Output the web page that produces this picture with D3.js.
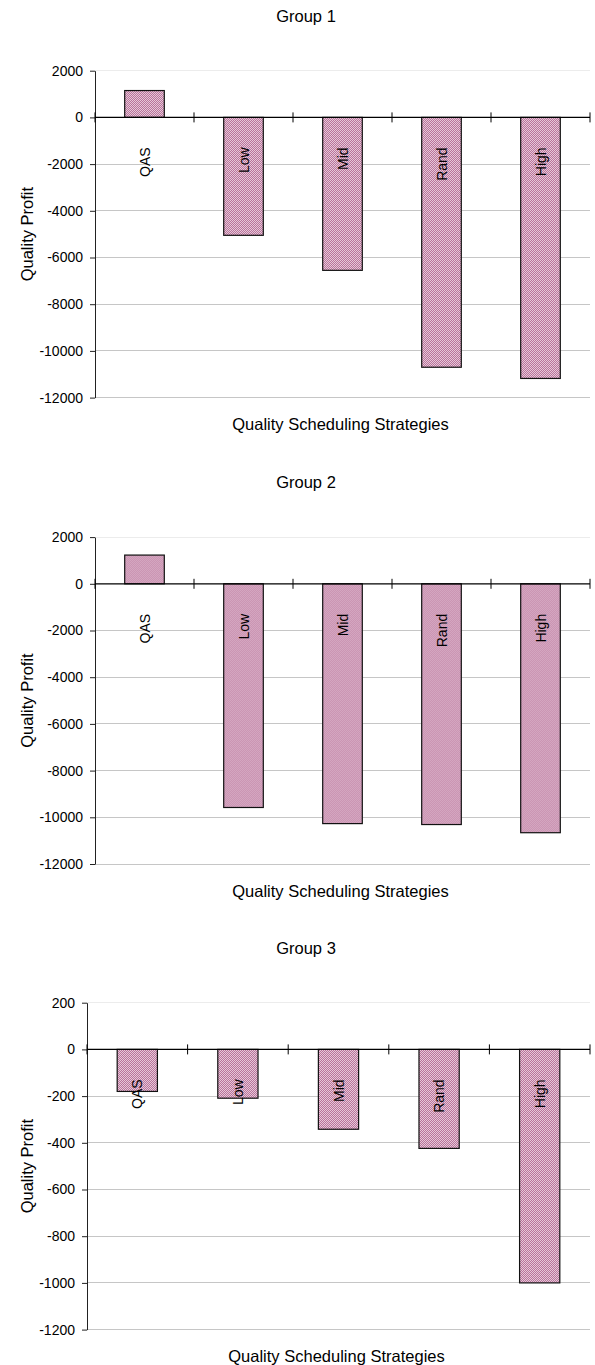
<!DOCTYPE html>
<html>
<head>
<meta charset="utf-8">
<script src="https://cdn.jsdelivr.net/npm/d3@7"></script>
<style>
  html, body { margin: 0; padding: 0; background: #fff; }
  svg { display: block; font-family: "Liberation Sans", Arial, sans-serif; }
</style>
</head>
<body>
<script>
// Strategy names shared by all three groups
const categories = ["QAS", "Low", "Mid", "Rand", "High"];

// Quality profit per strategy, one array per group
const group1 = [1150, -5050, -6550, -10700, -11180];
const group2 = [1230, -9580, -10270, -10310, -10660];
const group3 = [-180, -209, -342, -424, -1000];

// Y tick values per group
const ticksLarge = [2000, 0, -2000, -4000, -6000, -8000, -10000, -12000];
const ticksSmall = [200, 0, -200, -400, -600, -800, -1000, -1200];

const groupTitles = ["Group 1", "Group 2", "Group 3"];
const xTitle = "Quality Scheduling Strategies";
const yTitle = "Quality Profit";

const W = 595, H = 1365;
const svg = d3.select("body").append("svg")
  .attr("width", W).attr("height", H)
  .attr("viewBox", `0 0 ${W} ${H}`);

// Pink checkered fill used for every bar
const defs = svg.append("defs");
const pat = defs.append("pattern")
  .attr("id", "barFill")
  .attr("patternUnits", "userSpaceOnUse")
  .attr("width", 2).attr("height", 2);
pat.append("rect").attr("width", 2).attr("height", 2).attr("fill", "#b9739b");
pat.append("rect").attr("x", 0).attr("y", 0).attr("width", 1).attr("height", 1).attr("fill", "#e6c8d8");
pat.append("rect").attr("x", 1).attr("y", 1).attr("width", 1).attr("height", 1).attr("fill", "#e6c8d8");

const panels = [
  { title: groupTitles[0], values: group1, ticks: ticksLarge, offset: 0,     axisX: 95 },
  { title: groupTitles[1], values: group2, ticks: ticksLarge, offset: 466.4, axisX: 95 },
  { title: groupTitles[2], values: group3, ticks: ticksSmall, offset: 932.0, axisX: 87 }
];

const plotRight = 590;
const font = "Liberation Sans, Arial, sans-serif";

panels.forEach(p => {
  const g = svg.append("g").attr("transform", `translate(0,${p.offset})`);
  const top = 70.7, bottom = 397.6;
  const y = d3.scaleLinear()
    .domain([d3.min(p.ticks), d3.max(p.ticks)])
    .range([bottom, top]);
  const x = d3.scaleBand()
    .domain(categories)
    .range([p.axisX, plotRight])
    .paddingInner(0.6)
    .paddingOuter(0.3);
  const step = x.step();
  const maxTick = d3.max(p.ticks);

  // horizontal gridlines
  g.append("g").selectAll("line")
    .data(p.ticks.filter(t => t !== 0))
    .join("line")
    .attr("x1", p.axisX).attr("x2", plotRight)
    .attr("y1", d => y(d)).attr("y2", d => y(d))
    .attr("stroke", d => d === maxTick ? "#ececec" : "#c6c6c6")
    .attr("stroke-width", 1)
    .attr("shape-rendering", "crispEdges");

  // bars
  g.append("g").selectAll("rect")
    .data(categories.map((c, i) => ({ c, v: p.values[i] })))
    .join("rect")
    .attr("x", d => x(d.c))
    .attr("y", d => Math.min(y(d.v), y(0)))
    .attr("width", x.bandwidth())
    .attr("height", d => Math.abs(y(d.v) - y(0)))
    .attr("fill", "url(#barFill)")
    .attr("stroke", "#111")
    .attr("stroke-width", 1.2);

  // y axis
  const yAxis = d3.axisLeft(y)
    .tickValues(p.ticks)
    .tickSize(5)
    .tickSizeOuter(0)
    .tickPadding(7)
    .tickFormat(d => String(d));
  const ya = g.append("g")
    .attr("transform", `translate(${p.axisX},0)`)
    .call(yAxis);
  ya.select(".domain").attr("stroke", "#222");
  ya.selectAll(".tick line").attr("stroke", "#222");
  ya.selectAll(".tick text")
    .attr("font-family", font)
    .attr("font-size", 14)
    .attr("fill", "#000");

  // zero line with category boundary ticks
  g.append("line")
    .attr("x1", p.axisX).attr("x2", plotRight)
    .attr("y1", y(0)).attr("y2", y(0))
    .attr("stroke", "#000").attr("stroke-width", 1.2);
  g.append("g").selectAll("line")
    .data(d3.range(categories.length + 1))
    .join("line")
    .attr("x1", i => p.axisX + i * step).attr("x2", i => p.axisX + i * step)
    .attr("y1", y(0) - 5).attr("y2", y(0) + 5)
    .attr("stroke", "#000").attr("stroke-width", 1);

  // rotated category labels below the zero line
  g.append("g").selectAll("text")
    .data(categories)
    .join("text")
    .attr("transform", d => `translate(${x(d) + x.bandwidth() / 2},${y(0) + 30}) rotate(-90)`)
    .attr("text-anchor", "end")
    .attr("dominant-baseline", "central")
    .attr("font-family", font)
    .attr("font-size", 14)
    .attr("fill", "#000")
    .text(d => d);

  // titles
  g.append("text")
    .attr("x", 306).attr("y", 15.5)
    .attr("text-anchor", "middle").attr("dominant-baseline", "central")
    .attr("font-family", font).attr("font-size", 16.5)
    .text(p.title);
  g.append("text")
    .attr("x", (p.axisX + plotRight) / 2 - 2).attr("y", 424.3)
    .attr("text-anchor", "middle").attr("dominant-baseline", "central")
    .attr("font-family", font).attr("font-size", 16.5)
    .text(xTitle);
  g.append("text")
    .attr("transform", `translate(27,${(top + bottom) / 2}) rotate(-90)`)
    .attr("text-anchor", "middle").attr("dominant-baseline", "central")
    .attr("font-family", font).attr("font-size", 16.5)
    .text(yTitle);
});
</script>
</body>
</html>
